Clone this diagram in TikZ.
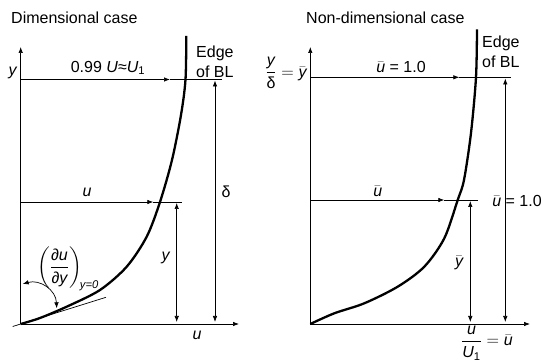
\documentclass[tikz,border=0pt]{standalone}
\usepackage{amsmath}
\usepackage{fontspec}
\setmainfont{Liberation Sans}
\usetikzlibrary{arrows.meta,positioning}

\newcommand{\itx}[1]{\text{\itshape #1}}

\begin{document}
\begin{tikzpicture}[x=1pt,y=-1pt,
    every node/.style={font=\fontsize{16}{18}\selectfont, inner sep=1pt},
    ax/.style={line width=0.7pt},
    arr/.style={line width=0.7pt,-{Latex[length=6pt,width=4.5pt]}},
    dbl/.style={line width=0.7pt,{Latex[length=6pt,width=4.5pt]}-{Latex[length=6pt,width=4.5pt]}},
    prof/.style={line width=2.3pt},
    edgelab/.style={anchor=west,align=left,font=\fontsize{16}{20}\selectfont}]
    \useasboundingbox (0,0) rectangle (542,363);

    % dimensional case
    \node[anchor=west] (t1) at (10,18) {Dimensional case};
    \coordinate (o1) at (20.7,324);
    \coordinate (ytop1) at (20.7,47);
    \coordinate (xend1) at (239,324);
    \draw[arr] (o1) -- (ytop1);
    \draw[arr] (o1) -- (xend1);
    \node (ylab1) at (13,73) {\textit{y}};
    \node (ulab1) at (197,335) {\textit{u}};

    \coordinate (ea1) at (20.7,79.5);
    \coordinate (eb1) at (170,79.5);
    \coordinate (ec1) at (221.7,79.5);
    \draw[arr] (ea1) -- (eb1);
    \draw[ax] (eb1) -- (ec1);
    \node (Ue1) at (108,68) {0.99 \textit{U}≈\textit{U}\textsubscript{1}};
    \node[edgelab] (edge1) at (195,62) {Edge\\of BL};

    \draw[prof] plot[smooth] coordinates {(20.7,324) (40,318) (66.7,306.7) (100,290) (126.7,266.7)
        (146.7,236.7) (160,202) (172,160) (181,115) (185.5,79.5) (186.3,36)};
    \coordinate (tg1) at (12.7,326.5);
    \coordinate (tg2) at (106,297.3);
    \draw[ax] (tg1) -- (tg2);

    \coordinate (ua1) at (20.7,202);
    \coordinate (ub1) at (153.3,202);
    \coordinate (uc1) at (181.7,202);
    \draw[arr] (ua1) -- (ub1);
    \draw[ax] (ub1) -- (uc1);
    \node (ulab2) at (87,192) {\textit{u}};

    \coordinate (ya1) at (176.7,203);
    \coordinate (yb1) at (176.7,322);
    \draw[dbl] (ya1) -- (yb1);
    \node (ylab2) at (166,258) {\textit{y}};

    \coordinate (da1) at (215,80.5);
    \coordinate (db1) at (215,322);
    \draw[dbl] (da1) -- (db1);
    \node (dlab1) at (226,192) {δ};

    \node (dudy) at (68,269) {$\left(\dfrac{\itx{∂u}}{\itx{∂y}}\right)_{\!\itx{y=0}}$};
    \coordinate (ca1) at (22.7,284);
    \coordinate (cb1) at (56.7,308.3);
    \draw[dbl] (ca1) .. controls (40,279) and (56,290) .. (cb1);

    % non-dimensional case
    \node[anchor=west] (t2) at (305,18) {Non-dimensional case};
    \coordinate (o2) at (310.3,324);
    \coordinate (ytop2) at (310.3,47);
    \coordinate (xend2) at (530,324);
    \draw[arr] (o2) -- (ytop2);
    \draw[arr] (o2) -- (xend2);
    \node (ylab3) at (286,73) {$\dfrac{\itx{y}}{\text{δ}}=\bar{\itx{y}}$};
    \node (ulab3) at (487,343) {$\dfrac{\itx{u}}{\itx{U}_{\text{1}}}=\bar{\itx{u}}$};

    \coordinate (ea2) at (310.3,77.3);
    \coordinate (eb2) at (459.3,77.3);
    \coordinate (ec2) at (511,77.3);
    \draw[arr] (ea2) -- (eb2);
    \draw[ax] (eb2) -- (ec2);
    \node (Ue2) at (401,66.7) {$\bar{\itx{u}}$ = 1.0};
    \node[edgelab] (edge2) at (481,52) {Edge\\of BL};

    \draw[prof] plot[smooth] coordinates {(310.3,324) (334.3,313.3) (364.3,303.3) (397.7,286.7)
        (424.3,266.7) (444.3,238.3) (457.7,200) (464,180) (471,133) (476,77.3) (477,29.3)};

    \coordinate (ua2) at (310.3,200);
    \coordinate (ub2) at (444.3,200);
    \coordinate (uc2) at (477.7,200);
    \draw[arr] (ua2) -- (ub2);
    \draw[ax] (ub2) -- (uc2);
    \node (ulab4) at (377.7,191) {$\bar{\itx{u}}$};

    \coordinate (ya2) at (470.3,201);
    \coordinate (yb2) at (470.3,322);
    \draw[dbl] (ya2) -- (yb2);
    \node (ylab4) at (459,263) {$\bar{\itx{y}}$};

    \coordinate (da2) at (505.3,78.5);
    \coordinate (db2) at (505.3,322);
    \draw[dbl] (da2) -- (db2);
    \node (dlab2) at (517,201) {$\bar{\itx{u}}$ = 1.0};
\end{tikzpicture}
\end{document}
